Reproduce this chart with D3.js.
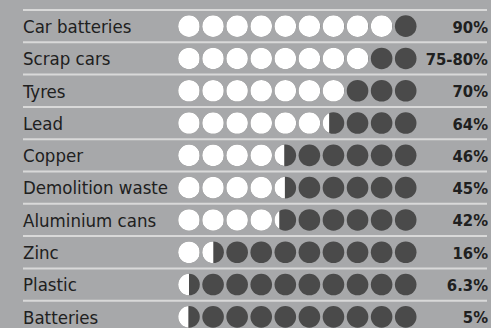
<!DOCTYPE html>
<html><head><meta charset="utf-8">
<script src="https://cdn.jsdelivr.net/npm/d3@7"></script>
<style>
html,body{margin:0;padding:0;background:#a7a8aa;}
svg{display:block;}
</style></head>
<body>
<svg id="c" width="491" height="328"></svg>
<script>
const categories = ["Car batteries","Scrap cars","Tyres","Lead","Copper","Demolition waste","Aluminium cans","Zinc","Plastic","Batteries"];
const valueLabels = ["90%","75-80%","70%","64%","46%","45%","42%","16%","6.3%","5%"];
// white (recycled) circle units as drawn, out of 10
const filled = [9, 8, 7, 6.3, 4.45, 4.48, 4.22, 1.51, 0.5, 0.47];
const units = d3.range(10);

const W = 491, H = 328;
const svg = d3.select("#c");
svg.append("rect").attr("width",W).attr("height",H).attr("fill","#a7a8aa");

const y = d3.scaleBand().domain(categories).range([10, 10 + 32.3*10]).paddingInner(0).paddingOuter(0);
const x = d3.scaleLinear().domain([0, 9]).range([189, 405.7]);
const r = 10.8;

// separator lines
svg.selectAll("line.sep").data(categories).join("line")
  .attr("x1", 23).attr("x2", 487)
  .attr("y1", d => y(d)).attr("y2", d => y(d))
  .attr("stroke", "#d9d9d9").attr("stroke-width", 2);

const defs = svg.append("defs");

const rows = svg.selectAll("g.row").data(categories).join("g")
  .attr("transform", d => `translate(0,${y(d) + y.bandwidth()/2})`);

rows.append("text")
  .attr("x", 23).attr("y", 6.8)
  .attr("font-family", "'DejaVu Sans Condensed','DejaVu Sans',sans-serif")
  .attr("font-stretch", "condensed")
  .attr("font-size", 18.5)
  .attr("fill", "#202020")
  .text(d => d);

rows.append("text")
  .attr("x", 488).attr("y", 6.5)
  .attr("text-anchor", "end")
  .attr("font-family", "'DejaVu Sans Condensed','DejaVu Sans',sans-serif")
  .attr("font-stretch", "condensed")
  .attr("font-weight", "bold")
  .attr("font-size", 16.5)
  .attr("fill", "#202020")
  .text((d,i) => valueLabels[i]);

rows.each(function(cat, ri){
  const g = d3.select(this);
  const f = filled[ri];
  units.forEach(u => {
    const cx = x(u);
    const share = Math.max(0, Math.min(1, f - u));
    g.append("circle").attr("cx", cx).attr("cy", 0).attr("r", r).attr("fill", "#4a4a4a");
    if (share > 0) {
      const id = `clip-${ri}-${u}`;
      defs.append("clipPath").attr("id", id)
        .append("rect").attr("x", cx - r - 1).attr("y", -r - 1).attr("width", 2*r*share + 1).attr("height", 2*r + 2);
      g.append("circle").attr("cx", cx).attr("cy", 0).attr("r", r).attr("fill", "#ffffff")
        .attr("clip-path", `url(#${id})`);
    }
  });
});
</script>
</body></html>
